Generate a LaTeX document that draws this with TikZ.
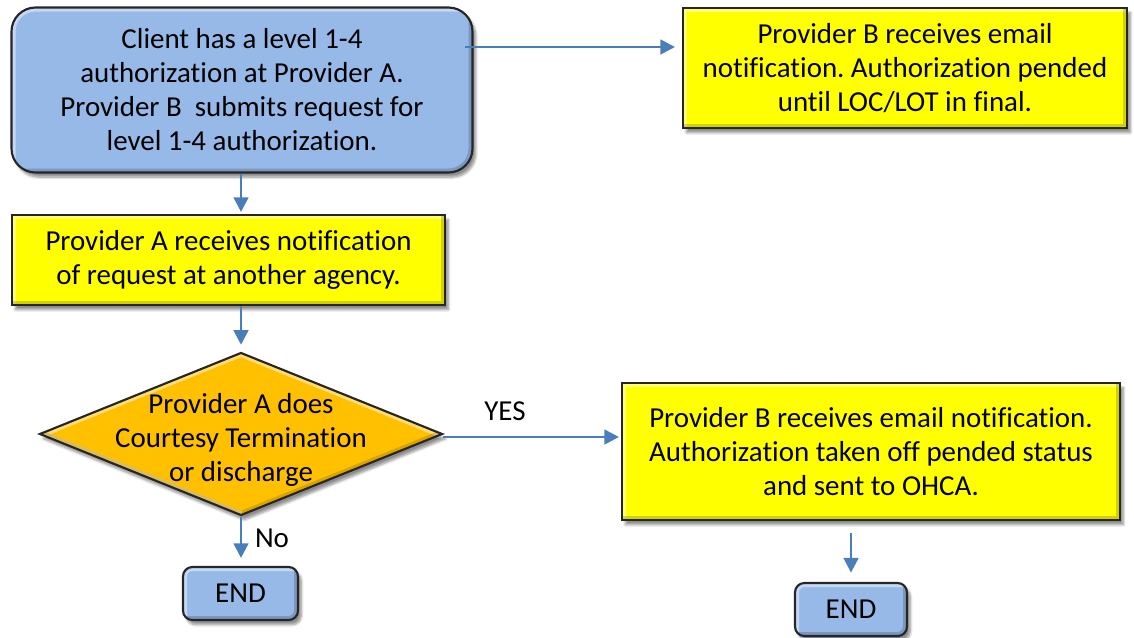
\documentclass[tikz,border=0pt]{standalone}
\usepackage{fontspec}
\setmainfont{Carlito}[Ligatures=NoCommon]
\usetikzlibrary{shapes.geometric,shadows.blur,arrows.meta}
\frenchspacing

\definecolor{boxblue}{HTML}{97B9E8}
\definecolor{boxyellow}{HTML}{FFFF00}
\definecolor{decgold}{HTML}{FFC000}
\definecolor{linkblue}{HTML}{4A7EBB}

\tikzset{
  bevelrect/.style={path picture={
    \draw[white, opacity=.45, line width=6pt]
      (path picture bounding box.south west) -- (path picture bounding box.north west)
      -- (path picture bounding box.north east);
    \draw[black, opacity=.18, line width=6pt]
      (path picture bounding box.north east) -- (path picture bounding box.south east)
      -- (path picture bounding box.south west);}},
  beveldiamond/.style={path picture={
    \draw[white, opacity=.45, line width=6pt]
      (path picture bounding box.south) -- (path picture bounding box.west)
      -- (path picture bounding box.north) -- (path picture bounding box.east);
    \draw[black, opacity=.15, line width=6pt]
      (path picture bounding box.east) -- (path picture bounding box.south)
      -- (path picture bounding box.west);}},
  base/.style={draw=black!85, line width=1.6pt, align=center, inner sep=0pt,
    font=\fontsize{21.7}{25.5}\selectfont,
    blur shadow={shadow xshift=2.5pt, shadow yshift=-3.5pt, shadow blur steps=6, shadow opacity=45}},
  startbox/.style={base, bevelrect, fill=boxblue, rounded corners=18pt},
  yellowbox/.style={base, bevelrect, fill=boxyellow},
  endbox/.style={base, bevelrect, fill=boxblue, rounded corners=7pt, minimum height=39.75pt},
  decision/.style={base, beveldiamond, fill=decgold, diamond, aspect=2.47},
  link/.style={draw=linkblue, line width=2pt, -{Triangle[length=11pt,width=11pt]}},
  tag/.style={font=\fontsize{21.7}{25.5}\selectfont}
}

\begin{document}
\begin{tikzpicture}[x=0.75pt, y=-0.75pt]
\useasboundingbox (0,0) rectangle (1134,637);

% boxes
\node[startbox, minimum width=345.75pt, minimum height=123.75pt] (start) at (242,90)
  {Client has a level 1-4\\authorization at Provider A.\\Provider B\ \ submits request for\\level 1-4 authorization.};
\node[yellowbox, minimum width=333pt, minimum height=90pt] (pend) at (905,68)
  {Provider B receives email\\notification. Authorization pended\\until LOC/LOT in final.};
\node[yellowbox, minimum width=324.75pt, minimum height=67.5pt] (notify) at (228.5,260)
  {Provider A receives notification\\of request at another agency.};
\node[decision, minimum width=302.25pt, minimum height=122.25pt] (dec) at (241,434) {};
\node[tag, align=center] (dectext) at (241,440)
  {Provider A does\\Courtesy Termination\\or discharge};
\node[yellowbox, minimum width=373.5pt, minimum height=102.75pt] (sent) at (871,451.5)
  {Provider B receives email notification.\\Authorization taken off pended status\\and sent to OHCA.};
\node[endbox, minimum width=86.25pt] (endA) at (240.5,593.5) {END};
\node[endbox, minimum width=84pt] (endB) at (851,609.5) {END};

% anchor points for the connectors
\coordinate (c1) at (465,47);
\coordinate (c2) at (675,47);
\coordinate (c3) at (443,437);
\coordinate (c4) at (619,437);

% connectors
\draw[link] (c1) -- (c2);
\draw[link] (start.south -| dec.north) -- ([yshift=1.5pt]notify.north -| dec.north);
\draw[link] (notify.south -| dec.north) -- ([yshift=5pt]dec.north);
\draw[link] (c3) -- (c4);
\draw[link] (dec.south) -- ([yshift=6pt]endA.north -| dec.south);
\draw[link] ([yshift=-9pt]sent.south -| endB.north) -- ([yshift=7pt]endB.north);

% labels
\node[tag] (yes) at (505,411) {YES};
\node[tag] (no) at (272,538) {No};
\end{tikzpicture}
\end{document}
